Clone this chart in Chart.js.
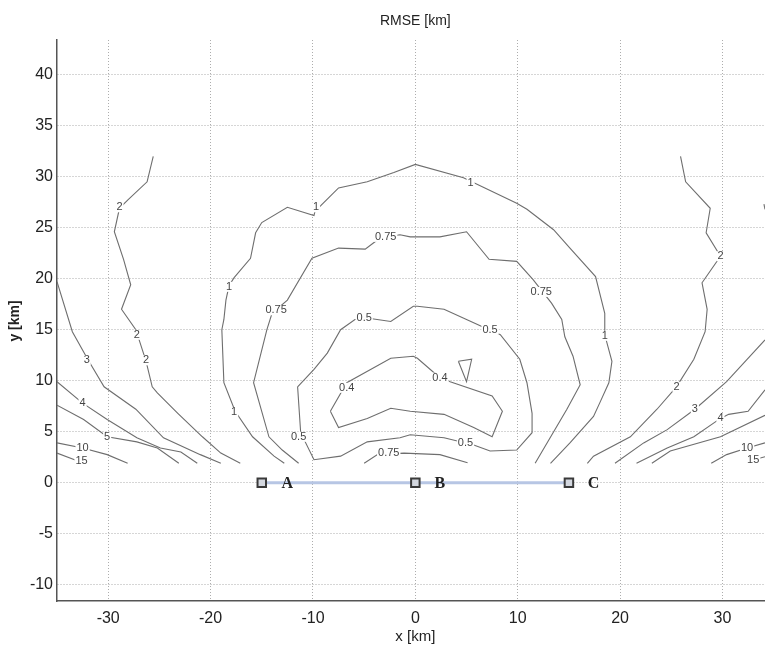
<!DOCTYPE html>
<html>
<head>
<meta charset="utf-8">
<script src="https://cdn.jsdelivr.net/npm/chart.js@4"></script>
<style>
  html, body { margin: 0; padding: 0; background: #fff; }
  #wrap { width: 765px; height: 647px; }
</style>
</head>
<body>
<div id="wrap"><canvas id="rmse-chart" width="765" height="647"></canvas></div>
<script>
// оси
const xTicks = [-30, -20, -10, 0, 10, 20, 30];
const yTicks = [-10, -5, 0, 5, 10, 15, 20, 25, 30, 35, 40];
const xRange = [-35, 34.15];
const yRange = [-11.6, 43.4];

// изолинии RMSE [km], точки (x, y) в км
const c1 = [[-12.8,1.9],[-13.8,2.6],[-15.9,4.5],[-17.6,7.0],[-18.7,9.8],[-18.9,15.0],[-18.7,16.0],[-18.5,17.9],[-18.2,19.3],[-17.7,20.1],[-16.1,22.0],[-15.6,24.5],[-15.0,25.5],[-12.5,27.0],[-9.9,26.2],[-9.8,26.6],[-7.5,28.9],[-4.7,29.5],[-2.1,30.4],[0,31.2],[4.7,29.9],[9.9,27.4],[10.9,26.8],[13.5,24.8],[15.1,23.0],[17.6,20.2],[18.5,16.6],[18.5,14.5],[19.2,11.9],[18.9,9.8],[18.0,7.8],[17.4,6.5],[15.1,3.9],[13.2,1.9]];
const c075 = [[-11.4,1.9],[-13.0,3.2],[-14.3,4.5],[-15.8,9.8],[-14.5,15.0],[-14.0,16.6],[-12.5,17.9],[-10.1,22.0],[-7.5,23.0],[-4.9,22.9],[-4.1,23.5],[-3.4,24.0],[-1.5,24.3],[-0.5,24.1],[2.4,24.1],[5.0,24.6],[7.2,21.9],[9.9,21.7],[11.5,19.9],[13.3,17.6],[14.3,16.0],[14.6,14.3],[15.4,12.4],[16.1,9.6],[14.8,7.2],[11.7,1.9]];
const c075low = [[-5.0,1.9],[-3.7,2.75],[-1.1,2.9],[2.4,2.75],[5.1,1.95]];
const c05 = [[-11.5,9.4],[-9.9,11.1],[-8.6,12.7],[-7.3,15.0],[-5.9,16.0],[-4.4,16.1],[-2.4,15.8],[-0.2,17.3],[0.2,17.3],[2.8,17.0],[6.5,15.3],[8.3,14.5],[10.2,12.1],[10.9,9.8],[11.4,6.8],[11.4,4.9],[9.9,3.2],[7.3,3.1],[5.7,3.7],[2.8,4.4],[-0.5,4.7],[-1.5,4.4],[-4.7,4.0],[-7.3,2.6],[-9.9,2.25],[-11.2,4.9],[-11.5,9.4]];
const c04 = [[-8.3,7.0],[-6.7,9.8],[-2.4,12.2],[-0.2,12.4],[0.2,12.2],[1.8,10.8],[3.4,9.9],[7.5,8.5],[8.5,7.0],[7.5,4.5],[5.7,5.4],[2.8,6.7],[-0.5,7.0],[-2.4,7.3],[-4.7,6.3],[-7.5,5.4],[-8.3,7.0]];
const c04tri = [[4.2,11.9],[5.5,12.1],[5.0,9.9],[4.2,11.9]];
const c2L = [[-25.6,32.0],[-26.2,29.5],[-28.1,27.7],[-28.9,26.9],[-29.4,24.6],[-28.5,21.9],[-27.8,19.4],[-28.7,17.0],[-27.3,15.0],[-26.3,11.9],[-25.7,9.4],[-25.2,8.8],[-23.2,6.8],[-20.8,4.5],[-19.0,2.9],[-17.1,1.9]];
const c3L = [[-35,19.7],[-33.5,14.8],[-32.0,12.1],[-30.4,9.4],[-27.3,7.2],[-24.6,4.4],[-21.0,2.75],[-19.0,1.9]];
const c4L = [[-35,9.9],[-32.5,7.8],[-30.1,6.2],[-27.2,4.4],[-24.9,3.4],[-22.9,3.0],[-21.3,1.9]];
const c5L = [[-35,7.6],[-32.4,6.2],[-30.1,4.5],[-27.2,4.0],[-25.2,3.4],[-23.1,1.9]];
const c10L = [[-35,3.9],[-32.5,3.4],[-30.1,2.75],[-28.1,1.9]];
const c15L = [[-35,2.9],[-32.9,2.1]];
const c2R = [[25.9,32.0],[26.4,29.5],[28.8,26.9],[28.4,24.5],[29.8,22.2],[28.0,19.6],[28.5,17.0],[28.3,14.8],[27.2,12.1],[25.5,9.4],[23.6,7.2],[21.0,4.5],[17.4,2.6],[16.8,1.9]];
const c3R = [[34.15,14.0],[32.4,12.1],[30.4,9.9],[27.3,7.2],[24.6,5.2],[22.3,3.9],[19.5,1.9]];
const c3Rtop = [[34.05,27.3],[34.15,26.8]];
const c4R = [[34.15,9.1],[32.5,7.0],[30.6,6.7],[29.8,6.3],[27.2,4.5],[24.6,3.4],[21.6,1.9]];
const c5R = [[34.15,6.6],[29.8,4.5],[24.9,3.1],[23.1,1.9]];
const c10R = [[28.9,1.9],[30.4,2.75],[32.4,3.4],[34.15,3.9]];
const c15R = [[33.6,2.4],[34.15,2.55]];

const contours = [c1, c075, c075low, c05, c04, c04tri, c2L, c3L, c4L, c5L, c10L, c15L,
                  c2R, c3R, c3Rtop, c4R, c5R, c10R, c15R];

// подписи изолиний: x, y, текст
const contourLabels = [
    [-9.7, 27.0, '1'], [5.4, 29.4, '1'], [-18.2, 19.2, '1'], [-17.7, 6.9, '1'], [18.5, 14.4, '1'],
    [-13.6, 16.9, '0.75'], [-2.9, 24.1, '0.75'], [12.3, 18.7, '0.75'], [-2.6, 2.9, '0.75'],
    [-5.0, 16.1, '0.5'], [7.3, 15.0, '0.5'], [4.9, 3.9, '0.5'], [-11.4, 4.5, '0.5'],
    [-6.7, 9.3, '0.4'], [2.4, 10.3, '0.4'],
    [-28.9, 27.0, '2'], [-27.2, 14.5, '2'], [-26.3, 12.0, '2'],
    [-32.1, 12.0, '3'], [-32.5, 7.8, '4'], [-30.1, 4.5, '5'], [-32.5, 3.4, '10'], [-32.6, 2.1, '15'],
    [29.8, 22.2, '2'], [25.5, 9.4, '2'], [27.3, 7.2, '3'], [29.8, 6.3, '4'], [32.4, 3.4, '10'], [33.0, 2.2, '15']
];

// база A-B-C
const stations = [[-15, 0], [0, 0], [15, 0]];
const stationNames = ['A', 'B', 'C'];
const stationLabelX = [-12.5, 2.4, 17.4];

const toPts = arr => arr.map(p => ({ x: p[0], y: p[1] }));

const labelsPlugin = {
    id: 'contourLabels',
    afterDatasetsDraw(chart) {
        const ctx = chart.ctx;
        const xs = chart.scales.x, ys = chart.scales.y;
        ctx.save();
        ctx.font = '11px "Liberation Sans", Arial, sans-serif';
        ctx.textAlign = 'center';
        ctx.textBaseline = 'middle';
        contourLabels.forEach(l => {
            const px = xs.getPixelForValue(l[0]);
            const py = ys.getPixelForValue(l[1]);
            const w = ctx.measureText(l[2]).width;
            ctx.fillStyle = '#fff';
            ctx.fillRect(px - w / 2 - 1, py - 5, w + 2, 10);
            ctx.fillStyle = '#444';
            ctx.fillText(l[2], px, py);
        });
        ctx.font = 'bold 16px "Liberation Serif", "Times New Roman", serif';
        ctx.fillStyle = '#222';
        stationNames.forEach((n, i) => {
            ctx.fillText(n, xs.getPixelForValue(stationLabelX[i]), ys.getPixelForValue(0) + 1);
        });
        ctx.restore();
    },
    afterDraw(chart) {
        const ctx = chart.ctx;
        const xs = chart.scales.x;
        const cx = xs.getPixelForValue(0);
        ctx.save();
        ctx.fillStyle = '#222';
        ctx.textAlign = 'center';
        ctx.textBaseline = 'middle';
        ctx.font = '14px "Liberation Sans", Arial, sans-serif';
        ctx.fillText('RMSE [km]', cx, 21);
        ctx.font = '15px "Liberation Sans", Arial, sans-serif';
        ctx.fillText('x [km]', cx, 637);
        ctx.translate(15, 321);
        ctx.rotate(-Math.PI / 2);
        ctx.font = 'bold 14px "Liberation Sans", Arial, sans-serif';
        ctx.fillText('y [km]', 0, 0);
        ctx.restore();
    }
};

const datasets = [
    {
        data: toPts(stations),
        showLine: false,
        pointStyle: 'rect',
        pointRadius: 6,
        pointBorderWidth: 2,
        pointBorderColor: '#3a3a3a',
        pointBackgroundColor: '#d4d8e0'
    },
    {
        data: toPts([stations[0], stations[2]]),
        showLine: true,
        pointRadius: 0,
        borderColor: '#b7c6e4',
        borderWidth: 3
    }
];
contours.forEach(c => {
    datasets.push({
        data: toPts(c),
        showLine: true,
        pointRadius: 0,
        borderColor: '#6e6e6e',
        borderWidth: 1.1,
        tension: 0
    });
});

const gridOpts = { color: '#adadad', lineWidth: 1, drawTicks: false };
const borderOpts = { color: '#555', width: 1.5, dash: [1, 2] };

new Chart(document.getElementById('rmse-chart').getContext('2d'), {
    type: 'scatter',
    data: { datasets: datasets },
    options: {
        responsive: false,
        animation: false,
        // autoPadding выключен, иначе маркеры станций сдвигают правый край
        layout: { autoPadding: false, padding: { top: 40, left: 0, right: 0, bottom: 0 } },
        plugins: {
            legend: { display: false },
            tooltip: { enabled: false },
            title: { display: false }
        },
        scales: {
            x: {
                type: 'linear',
                min: xRange[0],
                max: xRange[1],
                grid: gridOpts,
                border: borderOpts,
                ticks: {
                    color: '#222',
                    padding: 8,
                    maxRotation: 0,
                    font: { family: '"Liberation Sans", Arial, sans-serif', size: 16 }
                },
                afterBuildTicks: s => { s.ticks = xTicks.map(v => ({ value: v })); },
                afterFit: s => { s.height = 46; }
            },
            y: {
                type: 'linear',
                min: yRange[0],
                max: yRange[1],
                grid: gridOpts,
                border: borderOpts,
                ticks: {
                    color: '#222',
                    padding: 4,
                    font: { family: '"Liberation Sans", Arial, sans-serif', size: 16 }
                },
                afterBuildTicks: s => { s.ticks = yTicks.map(v => ({ value: v })); },
                afterFit: s => { s.width = 57; }
            }
        }
    },
    plugins: [labelsPlugin]
});
</script>
</body>
</html>
